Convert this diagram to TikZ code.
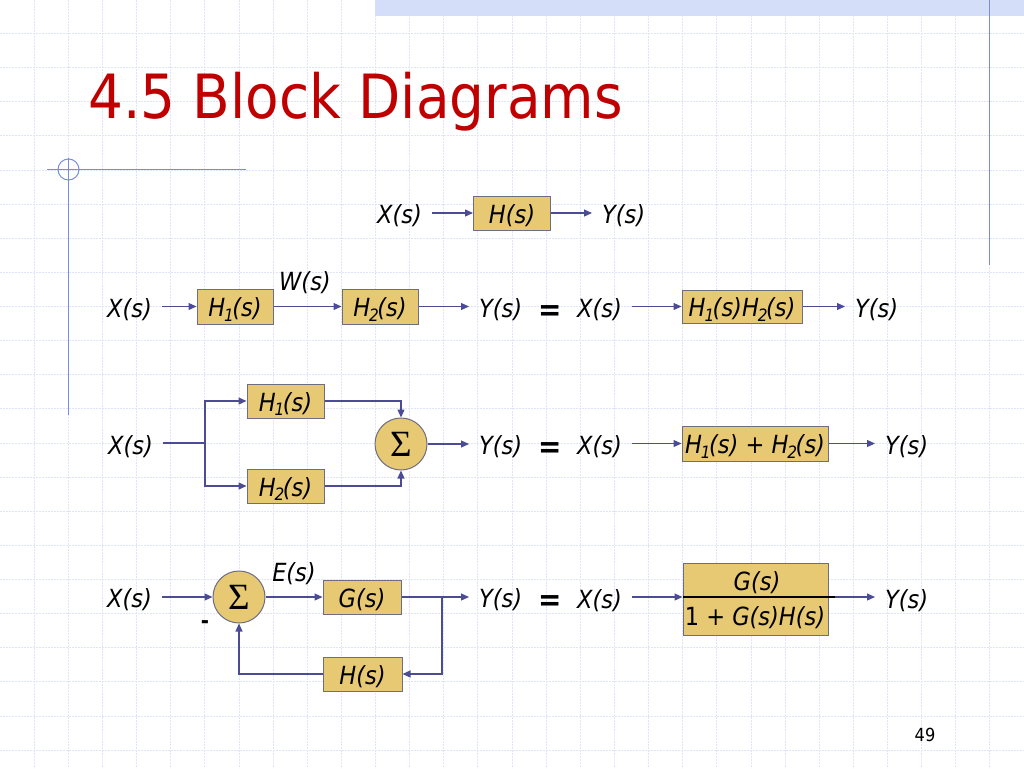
\documentclass[tikz,border=0pt]{standalone}
\usepackage{fontspec}
\setmainfont{DejaVu Sans Condensed}
\newfontfamily\sigfont{Liberation Serif}
\usetikzlibrary{arrows.meta}
\definecolor{boxfill}{RGB}{231,200,115}
\definecolor{boxdraw}{RGB}{110,110,130}
\definecolor{arrc}{RGB}{75,75,150}
\definecolor{titlered}{RGB}{192,0,0}
\definecolor{gridc}{RGB}{224,228,248}
\definecolor{bandc}{RGB}{212,222,249}
\definecolor{decoc}{RGB}{120,140,225}
\newcommand\lsub[1]{\kern-0.04em\raisebox{-0.35ex}{\fontsize{17}{17}\selectfont #1}\kern-0.06em}
\newcommand\lowtxt[1]{\raisebox{-3pt}[\height][\depth]{#1}}
\tikzset{
  lbl/.style={font=\fontsize{25}{25}\selectfont\itshape, inner ysep=0pt, inner xsep=10pt, text=black},
  blk/.style={draw=boxdraw, fill=boxfill, line width=1pt, inner sep=0pt, font=\fontsize{25}{25}\selectfont\itshape},
  sumc/.style={circle, draw=boxdraw, fill=boxfill, line width=1pt, minimum size=52pt, inner sep=0pt, font=\sigfont\fontsize{37}{37}\selectfont},
  arr/.style={draw=arrc, line width=1.2pt, -{Triangle[length=8pt,width=7pt]}},
  ln/.style={draw=arrc, line width=1.2pt},
  gridln/.style={draw=gridc, line width=0.7pt, dash pattern=on 2pt off 1pt},
  deco/.style={draw=decoc, line width=1pt},
  eqsign/.style={font=\fontsize{31}{31}\selectfont\bfseries, inner sep=0pt},
  minus/.style={font=\fontsize{22}{22}\selectfont\bfseries, inner sep=0pt}
}
\begin{document}
\begin{tikzpicture}[x=1pt,y=-1pt]
\useasboundingbox (0,0) rectangle (1024,768);
\fill[white] (0,0) rectangle (1024,768);
% grid
\foreach \i in {1,...,29} \draw[gridln] (\i*34.13,0) -- (\i*34.13,768);
\foreach \j in {1,...,22} \draw[gridln] (0,\j*34.13-0.8) -- (1024,\j*34.13-0.8);
% slide decorations
\fill[bandc] (375,0) rectangle (1024,16);
\draw[deco] (989,0) -- (989,265);
\draw[deco] (47,169.5) -- (246,169.5);
\draw[deco] (68.5,158) -- (68.5,415);
\draw[deco] (68.5,169.5) circle (10.5);
% title
\node[anchor=base west, text=titlered, font=\fontsize{61}{61}\selectfont, inner sep=0pt] (title) at (88,118) {4.5 Block Diagrams};

% ---------- Row 1
\node[blk, minimum width=77pt, minimum height=34pt] (hA) at (512,213) {\lowtxt{H(s)}};
\node[lbl, anchor=east] (xA) at (432,216) {X(s)};
\node[lbl, anchor=west] (yA) at (592,216) {Y(s)};
\draw[arr] (xA.east |- hA) -- (hA);
\draw[arr] (hA) -- (yA.west |- hA);

% ---------- Row 2 left
\node[blk, minimum width=76pt, minimum height=35pt] (hB1) at (235,306.5) {\lowtxt{H\lsub{1}(s)}};
\node[blk, minimum width=76pt, minimum height=35pt] (hB2) at (380,306.5) {\lowtxt{H\lsub{2}(s)}};
\node[lbl, anchor=east] (xB) at (162,309.5) {X(s)};
\node[lbl, anchor=west] (yB) at (469,309.5) {Y(s)};
\node[lbl, inner xsep=0pt] (wB) at (305,283) {W(s)};
\draw[arr] (xB.east |- hB1) -- (hB1);
\draw[arr] (hB1) -- (hB2);
\draw[arr] (hB2) -- (yB.west |- hB2);
\node[eqsign] (eqB) at (550,313) {=};
% Row 2 right
\node[blk, minimum width=120pt, minimum height=33pt] (hB12) at (742,306.5) {\lowtxt{H\lsub{1}(s)H\lsub{2}(s)}};
\node[lbl, anchor=east] (xBr) at (632,309.5) {X(s)};
\node[lbl, anchor=west] (yBr) at (845,309.5) {Y(s)};
\draw[arr] (xBr.east |- hB12) -- (hB12);
\draw[arr] (hB12) -- (yBr.west |- hB12);

% ---------- Row 3 left
\node[blk, minimum width=77pt, minimum height=34pt] (hC1) at (285.5,401) {\lowtxt{H\lsub{1}(s)}};
\node[blk, minimum width=77pt, minimum height=34pt] (hC2) at (285.5,486) {\lowtxt{H\lsub{2}(s)}};
\node[sumc] (sC) at (401,444) {Σ};
\node[lbl, anchor=east] (xC) at (163,447) {X(s)};
\node[lbl, anchor=west] (yC) at (469,447) {Y(s)};
\coordinate (jC) at (205,443);
\draw[ln] (xC.east |- jC) -- (jC);
\draw[arr] (jC) |- (hC1);
\draw[arr] (jC) |- (hC2);
\draw[arr] (hC1) -| (sC);
\draw[arr] (hC2) -| (sC);
\draw[arr] (sC) -- (yC.west |- sC);
\node[eqsign] (eqC) at (550,450) {=};
% Row 3 right
\node[blk, minimum width=146pt, minimum height=35pt] (hCs) at (755,443.5) {\lowtxt{H\lsub{1}(s) {\upshape +} H\lsub{2}(s)}};
\node[lbl, anchor=east] (xCr) at (632,446.5) {X(s)};
\node[lbl, anchor=west] (yCr) at (875,446.5) {Y(s)};
\draw[arr] (xCr.east |- hCs) -- (hCs);
\draw[arr] (hCs) -- (yCr.west |- hCs);

% ---------- Row 4 left
\node[sumc] (sD) at (239,597) {Σ};
\node[blk, minimum width=78pt, minimum height=34pt] (gD) at (362,597) {\lowtxt{G(s)}};
\node[blk, minimum width=79pt, minimum height=34pt] (hD) at (362.5,674) {\lowtxt{H(s)}};
\node[lbl, anchor=east] (xD) at (162,600) {X(s)};
\node[lbl, anchor=west] (yD) at (469,600) {Y(s)};
\node[lbl, inner xsep=0pt] (eD) at (294,574) {E(s)};
\node[minus] (mD) at (205,625) {-};
\coordinate (jD) at (442,597);
\draw[arr] (xD.east |- sD) -- (sD);
\draw[arr] (sD) -- (gD);
\draw[ln] (gD) -- (jD);
\draw[arr] (jD) -- (yD.west |- jD);
\draw[arr] (jD) |- (hD);
\draw[arr] (hD) -| (sD);
\node[eqsign] (eqD) at (550,603) {=};
% Row 4 right
\node[blk, minimum width=145pt, minimum height=72pt] (frD) at (755.5,599) {};
\node[lbl, inner xsep=0pt] (numD) at (757,583) {G(s)};
\node[lbl, inner xsep=0pt] (denD) at (755,618) {{\upshape 1 +} G(s)H(s)};
\coordinate (fe) at (835,597);
\draw[black, line width=1.4pt] (frD.west |- fe) -- (fe);
\node[lbl, anchor=east] (xDr) at (632,601) {X(s)};
\node[lbl, anchor=west] (yDr) at (875,601) {Y(s)};
\draw[arr] (xDr.east |- fe) -- (frD.west |- fe);
\draw[arr] (fe) -- (yDr.west |- fe);

% page number
\node[font=\fontsize{18}{18}\selectfont, inner sep=0pt] (pg) at (925,735) {49};
\end{tikzpicture}
\end{document}
